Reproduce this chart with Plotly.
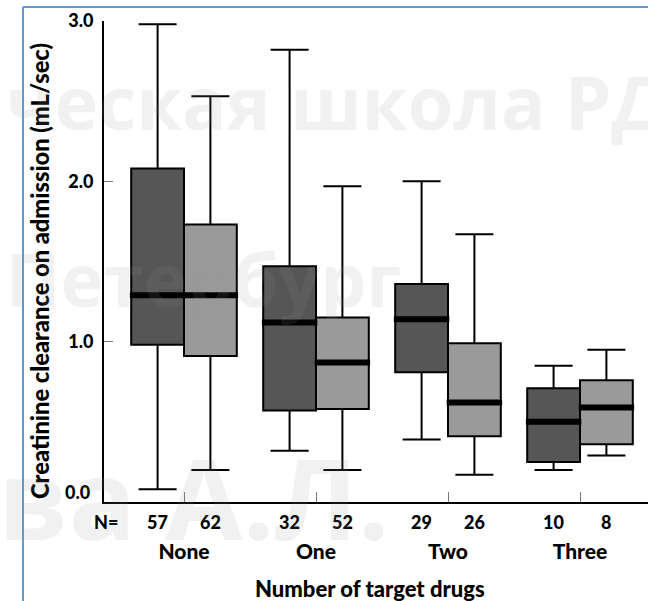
import plotly.graph_objects as go

# ---------------- data ----------------
categories = ["None", "One", "Two", "Three"]
n_dark = [57, 32, 29, 10]
n_light = [62, 52, 26, 8]

# dark boxes (first series)
dark_low = [0.08, 0.32, 0.39, 0.20]
dark_q1 = [0.98, 0.57, 0.81, 0.25]
dark_med = [1.29, 1.12, 1.14, 0.50]
dark_q3 = [2.08, 1.47, 1.36, 0.71]
dark_high = [2.98, 2.82, 2.00, 0.85]

# light boxes (second series)
light_low = [0.20, 0.20, 0.17, 0.29]
light_q1 = [0.91, 0.58, 0.41, 0.36]
light_med = [1.29, 0.87, 0.62, 0.59]
light_q3 = [1.73, 1.15, 0.99, 0.76]
light_high = [2.53, 1.97, 1.67, 0.95]

y_tickvals = [0, 1, 2, 3]
y_ticktext = ["0.0", "1.0", "2.0", "3.0"]

y_title = "Creatinine clearance on admission (mL/sec)"
x_title = "Number of target drugs"
watermark = ["ческая школа РД", "Петербург", "ва А.Л."]

# ---------------- layout constants ----------------
W, H = 648, 601
ML, MR, MT, MB = 104, 0, 21, 99
PW, PH = W - ML - MR, H - MT - MB
GROUP_PX = 132  # pixel spacing between group centres
FIRST_PX = 184  # pixel position of first group centre
OFF = 0.2       # half-distance between paired boxes
BW = 0.4        # box width (data units)
FONT = "Lato"
WGT = 900

def px_x(px):
    return (px - ML) / PW

def px_y(py):
    return (H - MB - py) / PH

idx = list(range(len(categories)))
x_dark = [i - OFF for i in idx]
x_light = [i + OFF for i in idx]

fig = go.Figure()

fig.add_trace(go.Box(
    x=x_dark, q1=dark_q1, median=dark_med, q3=dark_q3,
    lowerfence=dark_low, upperfence=dark_high,
    width=BW, whiskerwidth=0.72, fillcolor="#565656",
    line=dict(color="black", width=2), boxpoints=False,
    showlegend=False, hoverinfo="skip",
))
fig.add_trace(go.Box(
    x=x_light, q1=light_q1, median=light_med, q3=light_q3,
    lowerfence=light_low, upperfence=light_high,
    width=BW, whiskerwidth=0.72, fillcolor="#9a9a9a",
    line=dict(color="black", width=2), boxpoints=False,
    showlegend=False, hoverinfo="skip",
))

# thick median bars
mx, my = [], []
for xs, meds in ((x_dark, dark_med), (x_light, light_med)):
    for c, m in zip(xs, meds):
        mx += [c - BW / 2 - 0.01, c + BW / 2 + 0.01, None]
        my += [m, m, None]
fig.add_trace(go.Scatter(x=mx, y=my, mode="lines",
                         line=dict(color="black", width=6),
                         showlegend=False, hoverinfo="skip"))

ann = []
font_lab = dict(family=FONT, size=18, color="black", weight=WGT)
# the lowest y tick label sits a little above its tick in the reference
ann.append(dict(text=y_ticktext[0], x=px_x(93), y=px_y(492), xref="paper", yref="paper",
                showarrow=False, font=font_lab, xanchor="right", yanchor="middle"))
# N labels
ann.append(dict(text="N=", x=px_x(106), y=px_y(522), xref="paper", yref="paper",
                showarrow=False, font=font_lab, xanchor="center", yanchor="middle"))
for xs, ns in ((x_dark, n_dark), (x_light, n_light)):
    for c, n in zip(xs, ns):
        ann.append(dict(text=str(n), x=c, y=px_y(522), xref="x", yref="paper",
                        showarrow=False, font=font_lab, xanchor="center", yanchor="middle"))
# axis titles
ann.append(dict(text=x_title, x=px_x(370), y=px_y(588), xref="paper", yref="paper",
                showarrow=False, font=dict(family=FONT, size=22, color="black", weight=WGT),
                xanchor="center", yanchor="middle"))
ann.append(dict(text=y_title, x=px_x(40), y=px_y(271), xref="paper", yref="paper",
                textangle=-90, showarrow=False,
                font=dict(family=FONT, size=23.7, color="black", weight=WGT),
                xanchor="center", yanchor="middle"))
# watermark
wm_color = "rgba(150,150,150,0.13)"
wm_pos = [(4, 102, 74), (4, 278, 73), (-4, 496, 112)]
for txt, (wx, wy, fs) in zip(watermark, wm_pos):
    ann.append(dict(text=txt, x=px_x(wx), y=px_y(wy), xref="paper", yref="paper",
                    showarrow=False, xanchor="left", yanchor="middle",
                    font=dict(family="Open Sans", size=fs, color=wm_color, weight="bold")))

shapes = [
    dict(type="line", xref="paper", yref="paper", x0=px_x(23), x1=px_x(W + 5),
         y0=px_y(7), y1=px_y(7), line=dict(color="#5b9bd5", width=2)),
    dict(type="line", xref="paper", yref="paper", x0=px_x(23), x1=px_x(23),
         y0=px_y(7), y1=px_y(H + 5), line=dict(color="#5b9bd5", width=2)),
]

fig.update_layout(
    width=W, height=H,
    margin=dict(l=ML, r=MR, t=MT, b=MB),
    paper_bgcolor="white", plot_bgcolor="white",
    annotations=ann, shapes=shapes,
    font=dict(family=FONT, color="black"),
)
fig.update_xaxes(
    range=[(ML - FIRST_PX) / GROUP_PX, (W - FIRST_PX) / GROUP_PX],
    tickvals=idx, ticktext=categories,
    ticks="inside", ticklen=10, tickwidth=1, tickcolor="#777",
    showline=True, linecolor="black", linewidth=2,
    showgrid=False, zeroline=False, ticklabelstandoff=30,
    tickfont=dict(family=FONT, size=21, color="black", weight=WGT),
)
fig.update_yaxes(
    range=[0, 3.0], tickvals=y_tickvals,
    ticktext=[""] + y_ticktext[1:],
    ticks="inside", ticklen=9, tickwidth=1, tickcolor="#777",
    showline=True, linecolor="black", linewidth=2,
    showgrid=False, zeroline=False, ticklabelstandoff=5,
    tickfont=dict(family=FONT, size=18, color="black", weight=WGT),
)

fig.write_html(
    "out.html",
    config={"displayModeBar": False},
    post_script="document.body.style.margin='0';document.body.style.overflow='hidden';",
)
